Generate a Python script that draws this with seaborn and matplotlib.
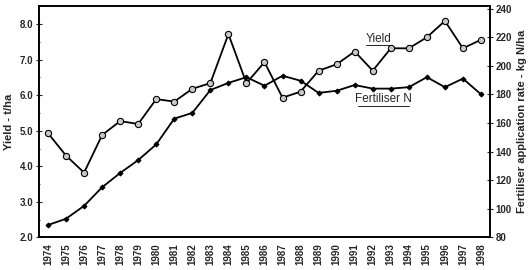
import numpy as np
import pandas as pd
import matplotlib
matplotlib.use("Agg")
import matplotlib.pyplot as plt
import seaborn as sns
from matplotlib.ticker import MultipleLocator

# data
years = list(range(1974, 1999))
yield_t = [4.93, 4.30, 3.82, 4.88, 5.27, 5.19, 5.89, 5.82, 6.18, 6.34, 7.72, 6.34, 6.93,
           5.93, 6.10, 6.69, 6.87, 7.23, 6.69, 7.32, 7.32, 7.63, 8.09, 7.32, 7.56]
fert_n = [88.6, 93, 102, 115, 125, 134, 145, 163, 167, 183, 188, 192, 186,
          193, 189.5, 181, 182.5, 186.5, 184, 184, 185, 192, 185, 191, 180]

df = pd.DataFrame({"year": years, "yield": yield_t, "fert": fert_n})

sns.set_style("white")
plt.rcParams["font.family"] = ["Liberation Sans", "DejaVu Sans"]

fig = plt.figure(figsize=(5.31, 2.7), dpi=100)
ax = fig.add_axes([0.0734, 0.121, 0.8494, 0.858])
ax2 = ax.twinx()

sns.lineplot(data=df, x="year", y="yield", ax=ax, color="black", linewidth=1.3,
             marker="o", markersize=4.5, markerfacecolor="#c8c8c8",
             markeredgecolor="black", markeredgewidth=0.8)
sns.lineplot(data=df, x="year", y="fert", ax=ax2, color="black", linewidth=1.3,
             marker="D", markersize=2.5, markerfacecolor="black", markeredgecolor="black")

ax.set_xlim(1973.5, 1998.5)
ax.set_ylim(2.0, 8.52)
ax2.set_ylim(80, 242)

ax.set_xticks(years)
ax.set_xticklabels([str(y) for y in years], rotation=90, fontsize=7, fontweight="bold")
ax.set_xticks([y + 0.5 for y in years[:-1]], minor=True)
ax.tick_params(axis="x", which="major", length=0, pad=4)
ax.tick_params(axis="x", which="minor", length=4, width=0.8, direction="inout")

ax.set_yticks([2, 3, 4, 5, 6, 7, 8])
ax.set_yticklabels(["2.0", "3.0", "4.0", "5.0", "6.0", "7.0", "8.0"],
                   fontsize=7, fontweight="bold")
ax.yaxis.set_minor_locator(MultipleLocator(0.5))
ax.tick_params(axis="y", which="major", length=4, width=0.8, direction="inout", pad=2)
ax.tick_params(axis="y", which="minor", length=2, width=0.6, direction="inout")

ax2.set_yticks(range(80, 241, 20))
ax2.set_yticklabels([str(v) for v in range(80, 241, 20)], fontsize=7, fontweight="bold")
ax2.tick_params(axis="y", length=4, width=0.8, direction="inout", pad=2)

ax.set_xlabel("")
ax.set_ylabel("Yield - t/ha", fontsize=8, fontweight="bold", labelpad=4)
ax2.set_ylabel("Fertiliser application rate - kg N/ha", fontsize=8, fontweight="bold",
               labelpad=4)

for a in (ax, ax2):
    for s in a.spines.values():
        s.set_linewidth(1.2)
        s.set_color("black")

# underlined series labels
ax.text(1992.3, 7.58, "Yield", fontsize=8.5, ha="center", va="center")
ax.plot([1991.65, 1992.95], [7.40, 7.40], color="black", linewidth=0.6)
ax2.text(1992.6, 176.5, "Fertiliser N", fontsize=8.5, ha="center", va="center")
ax2.plot([1991.2, 1994.0], [171.5, 171.5], color="black", linewidth=0.6)

fig.savefig("out.png", dpi=100)
